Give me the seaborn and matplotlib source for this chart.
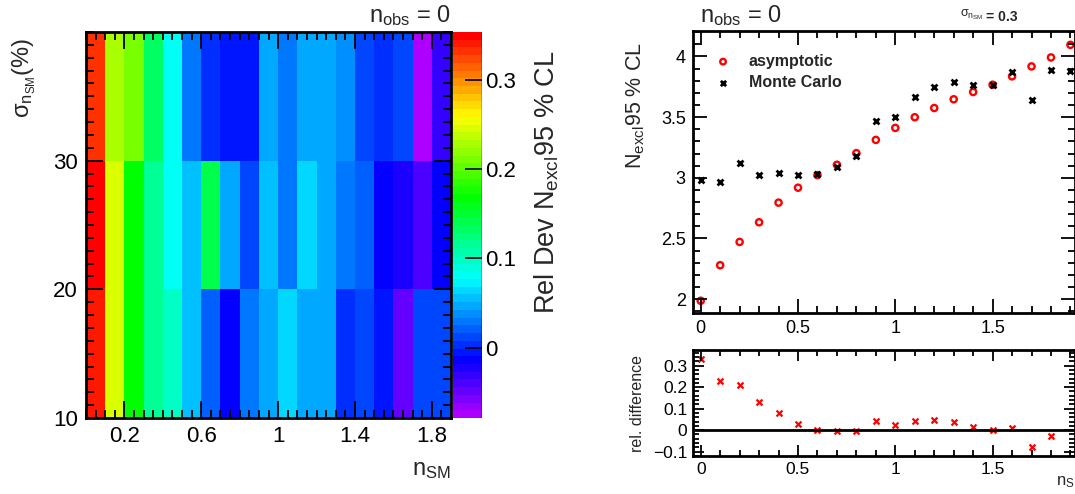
import numpy as np
import pandas as pd
import colorsys
import matplotlib
matplotlib.use("Agg")
import matplotlib.pyplot as plt
from matplotlib.colors import ListedColormap
from matplotlib.ticker import MultipleLocator, FixedLocator, FuncFormatter
import seaborn as sns

# n_SM bins (left edges) and sigma rows (top to bottom)
n_sm = [0.0, 0.1, 0.2, 0.3, 0.4, 0.5, 0.6, 0.7, 0.8, 0.9,
        1.0, 1.1, 1.2, 1.3, 1.4, 1.5, 1.6, 1.7, 1.8]
sigma_rows = ["30-40", "20-30", "10-20"]

rel_dev_30 = [0.333, 0.231, 0.208, 0.129, 0.081, 0.031, 0.002, -0.006, -0.006, 0.045,
              0.025, 0.045, 0.047, 0.037, 0.014, 0.0, 0.008, -0.078, -0.028]
rel_dev_20 = [0.350, 0.250, 0.169, 0.120, 0.077, 0.058, 0.144, 0.050, 0.015, 0.058,
              0.033, 0.067, 0.050, 0.033, 0.019, -0.012, -0.026, -0.041, -0.016]
rel_dev_10 = [0.342, 0.250, 0.169, 0.120, 0.095, 0.058, 0.024, -0.016, 0.033, 0.050,
              0.067, 0.050, 0.050, 0.002, 0.008, -0.005, -0.053, 0.008, 0.008]

# right panel: sigma = 0.3
n_sm_pts = [0.0, 0.1, 0.2, 0.3, 0.4, 0.5, 0.6, 0.7, 0.8, 0.9,
            1.0, 1.1, 1.2, 1.3, 1.4, 1.5, 1.6, 1.7, 1.8, 1.9]
asymptotic = [1.986, 2.279, 2.471, 2.633, 2.795, 2.918, 3.022, 3.107, 3.203, 3.312,
              3.411, 3.499, 3.575, 3.647, 3.707, 3.767, 3.836, 3.918, 3.992, 4.096]
monte_carlo = [2.978, 2.962, 3.123, 3.025, 3.038, 3.019, 3.030, 3.090, 3.181, 3.468,
               3.499, 3.668, 3.751, 3.786, 3.764, 3.762, 3.871, 3.638, 3.888, 3.882]
rel_diff = rel_dev_30

zmin, zmax = -0.079, 0.354

sns.set_style("ticks")
plt.rcParams["font.family"] = ["Liberation Sans", "DejaVu Sans"]
plt.rcParams["mathtext.fontset"] = "custom"
plt.rcParams["mathtext.rm"] = "Liberation Sans"
plt.rcParams["mathtext.default"] = "regular"
plt.rcParams["axes.axisbelow"] = False

# ROOT-like rainbow palette, 50 levels
cols = [colorsys.hsv_to_rgb(0.78 * (1 - i / 49), 1, 1) for i in range(50)]
cmap = ListedColormap(cols)

fig = plt.figure(figsize=(10.75, 4.94), dpi=100)
W, H = 1075, 494

def box(l, t, r, b):
    return [l / W, 1 - b / H, (r - l) / W, (b - t) / H]

fmt = FuncFormatter(lambda v, p: "0" if abs(v) < 1e-9 else f"{v:g}".replace("-", "\u2212"))

def style_axes(a, size, major, minor):
    a.set_axisbelow(False)
    a.tick_params(which="both", direction="in", top=True, right=True, bottom=True, left=True,
                  color="black", labelcolor="black", labelsize=size, width=1.3)
    a.tick_params(which="major", length=major)
    a.tick_params(which="minor", length=minor)
    for s in a.spines.values():
        s.set_visible(True)
        s.set_linewidth(2)
        s.set_color("black")

ax = fig.add_axes(box(86, 32, 451, 418))
cax = fig.add_axes(box(453, 32, 482, 418))

grid = pd.DataFrame([rel_dev_30, rel_dev_20, rel_dev_10], index=sigma_rows, columns=n_sm)
sns.heatmap(grid, ax=ax, cbar_ax=cax, cmap=cmap, vmin=zmin, vmax=zmax,
            xticklabels=False, yticklabels=False)

ax.set_xlim(0, 19)
ax.set_ylim(3, 0)
ax.xaxis.set_major_locator(FixedLocator([2, 6, 10, 14, 18]))
ax.set_xticklabels(["0.2", "0.6", "1", "1.4", "1.8"])
ax.xaxis.set_minor_locator(MultipleLocator(0.5))
ax.yaxis.set_major_locator(FixedLocator([3, 2, 1]))
ax.set_yticklabels(["10", "20", "30"])
ax.yaxis.set_minor_locator(FixedLocator([(40 - v) / 10 for v in range(10, 41)]))
style_axes(ax, 16, 12, 6)
ax.tick_params(pad=6)
ax.set_xlabel("")
ax.set_ylabel("")
fig.text(451 / W, 1 - 470 / H, r"$n_{SM}$", fontsize=17, ha="right", va="center")
fig.text(24 / W, 1 - 38 / H, r"$\sigma_{n_{SM}}$(%)", fontsize=17, rotation=90,
         ha="center", va="top")
fig.text(451 / W, 1 - 16 / H, r"$n_{obs}$ = 0", fontsize=17, ha="right", va="center")

cbar = ax.collections[0].colorbar
cbar.outline.set_visible(False)
cbar.set_ticks([0, 0.1, 0.2, 0.3])
cbar.set_ticklabels(["0", "0.1", "0.2", "0.3"])
cax.set_axisbelow(False)
cax.tick_params(direction="in", length=12, width=1.2, labelsize=16, pad=2,
                color="black", labelcolor="black")
cax.axvline(1, color="black", lw=1)
fig.text(547 / W, 1 - 50 / H, r"Rel Dev $N_{excl}$95 % CL", fontsize=19.5, rotation=90,
         ha="center", va="top")

# right top panel
x_lo = (692.7 - 700.7) / 194.6
x_hi = (1074.5 - 700.7) / 194.6
ax2 = fig.add_axes(box(692.7, 31, 1074.5, 313))
sns.scatterplot(x=n_sm_pts, y=asymptotic, ax=ax2, marker="o", s=20, facecolors="none",
                edgecolors="red", linewidths=1.7, label="asymptotic")
sns.scatterplot(x=n_sm_pts, y=monte_carlo, ax=ax2, marker="x", s=18, color="black",
                linewidths=2, label="Monte Carlo")
ax2.set_xlim(x_lo, x_hi)
ax2.set_ylim(1.885, 4.21)
ax2.xaxis.set_major_locator(MultipleLocator(0.5))
ax2.xaxis.set_minor_locator(MultipleLocator(0.1))
ax2.yaxis.set_major_locator(MultipleLocator(0.5))
ax2.yaxis.set_minor_locator(MultipleLocator(0.1))
ax2.xaxis.set_major_formatter(fmt)
ax2.yaxis.set_major_formatter(fmt)
style_axes(ax2, 13, 10, 5)
ax2.tick_params(pad=5)
ax2.set_ylabel(r"$N_{excl}$95 % CL", fontsize=15.5, loc="top")
ax2.yaxis.set_label_coords(-0.12, 0.96)
ax2.legend(loc="upper left", bbox_to_anchor=(0.0, 0.97), frameon=False,
           prop={"weight": "bold", "size": 11.5}, handletextpad=0.6,
           labelspacing=0.4, markerscale=0.9)
fig.text(700 / W, 1 - 16 / H, r"$n_{obs}$ = 0", fontsize=17, ha="left", va="center")
fig.text(960 / W, 1 - 15 / H, r"$\sigma_{n_{SM}}$", fontsize=9, ha="left", va="center")
fig.text(986 / W, 1 - 17 / H, "= 0.3", fontsize=10, fontweight="bold", ha="left", va="center")

# right bottom panel
ax3 = fig.add_axes(box(692.7, 350, 1074.5, 456))
sns.scatterplot(x=n_sm, y=rel_diff, ax=ax3, marker="x", s=18, color="red", linewidths=1.6)
ax3.axhline(0, color="black", lw=2)
ax3.set_xlim(x_lo, x_hi)
ax3.set_ylim(-0.12, 0.373)
ax3.xaxis.set_major_locator(MultipleLocator(0.5))
ax3.xaxis.set_minor_locator(MultipleLocator(0.1))
ax3.yaxis.set_major_locator(MultipleLocator(0.1))
ax3.yaxis.set_minor_locator(MultipleLocator(0.02))
ax3.xaxis.set_major_formatter(fmt)
ax3.yaxis.set_major_formatter(fmt)
style_axes(ax3, 12.5, 8, 4)
ax3.tick_params(pad=4)
ax3.set_ylabel("rel. difference", fontsize=11.5)
ax3.yaxis.set_label_coords(-0.125, 0.5)
fig.text(1056 / W, 1 - 482 / H, r"$n_{SM}$", fontsize=12, ha="left", va="center")

fig.savefig("out.png", dpi=100)
